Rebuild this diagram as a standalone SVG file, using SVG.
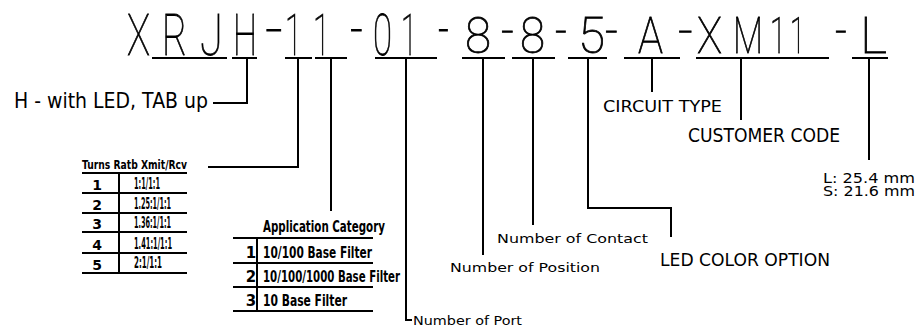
<svg xmlns="http://www.w3.org/2000/svg" width="917" height="328" viewBox="0 0 917 328">
<defs>
<filter id="gray" x="0" y="0" width="917" height="100" filterUnits="userSpaceOnUse"><feColorMatrix type="saturate" values="0"/></filter>
</defs>
<style>
.bg{fill:#fff}
.ti{font-family:Roboto,"DejaVu Sans",sans-serif;font-weight:100;fill:#000;stroke:#000;stroke-width:0.8}
.tl{font-size:58px}
.tr{font-size:50px}
.ln{stroke:#000;stroke-width:2;fill:none}
.lb{font-family:"DejaVu Sans","Liberation Sans",sans-serif;fill:#000}
.tb{font-family:"DejaVu Sans","Liberation Sans",sans-serif;font-weight:bold;fill:#000}
</style>
<rect class="bg" x="0" y="0" width="917" height="328"/>
<g id="title" filter="url(#gray)">
<g class="ti tl">
<text x="127" y="55" textLength="23" lengthAdjust="spacingAndGlyphs">X</text>
<text x="162" y="55" textLength="25" lengthAdjust="spacingAndGlyphs">R</text>
<text x="200" y="55" textLength="23" lengthAdjust="spacingAndGlyphs">J</text>
<text x="233" y="55" textLength="24" lengthAdjust="spacingAndGlyphs">H</text>
<text x="265" y="49" textLength="18" lengthAdjust="spacingAndGlyphs">-</text>
<text x="285" y="55" textLength="17" lengthAdjust="spacingAndGlyphs">1</text>
<text x="313" y="55" textLength="17" lengthAdjust="spacingAndGlyphs">1</text>
<text x="350" y="49" textLength="13" lengthAdjust="spacingAndGlyphs">-</text>
<text x="373" y="55" textLength="19" lengthAdjust="spacingAndGlyphs">0</text>
<text x="401" y="55" textLength="16" lengthAdjust="spacingAndGlyphs">1</text>
<text x="438" y="49" textLength="11" lengthAdjust="spacingAndGlyphs">-</text>
</g>
<g class="ti tr">
<text x="465" y="53" textLength="26" lengthAdjust="spacingAndGlyphs">8</text>
<text x="501" y="47.5" textLength="13" lengthAdjust="spacingAndGlyphs">-</text>
<text x="520" y="53" textLength="25" lengthAdjust="spacingAndGlyphs">8</text>
<text x="555" y="47.5" textLength="12" lengthAdjust="spacingAndGlyphs">-</text>
<text x="578" y="53" textLength="27" lengthAdjust="spacingAndGlyphs">5</text>
<text x="605" y="47.5" textLength="13" lengthAdjust="spacingAndGlyphs">-</text>
<text x="638" y="53" textLength="25" lengthAdjust="spacingAndGlyphs">A</text>
<text x="678" y="47.5" textLength="15" lengthAdjust="spacingAndGlyphs">-</text>
<text x="697" y="53" textLength="25" lengthAdjust="spacingAndGlyphs">X</text>
<text x="733" y="53" textLength="30" lengthAdjust="spacingAndGlyphs">M</text>
<text x="770" y="53" textLength="16" lengthAdjust="spacingAndGlyphs">1</text>
<text x="790" y="53" textLength="15" lengthAdjust="spacingAndGlyphs">1</text>
<text x="835" y="47.5" textLength="12" lengthAdjust="spacingAndGlyphs">-</text>
<text x="860" y="53" textLength="27" lengthAdjust="spacingAndGlyphs">L</text>
</g>
</g>
<g id="connectors" class="ln">
<path d="M152 58H227M232 58H257M285 58H312M315 58H347M375 58H437M462 58H505M512 58H555M568 58H607M624 58H680M696 58H829M852 58H888"/>
<path d="M247 58V103H213"/>
<path d="M298 58V167H208"/>
<path d="M331 58V211"/>
<path d="M406 58V320H412"/>
<path d="M483 58V255"/>
<path d="M533 58V225"/>
<path d="M588 58V208H671V237"/>
<path d="M652 58V92"/>
<path d="M741 58V120"/>
<path d="M869 58V160"/>
</g>
<g id="led-tab" class="lb"><text x="14" y="108" font-size="22" textLength="194" lengthAdjust="spacingAndGlyphs">H - with LED, TAB up</text></g>
<g id="turns-ratio" class="tb">
<text x="82" y="169" font-size="12" textLength="105" lengthAdjust="spacingAndGlyphs">Turns Ratb Xmit/Rcv</text>
<path class="ln" d="M82 173H187M82 193H187M82 213H187M82 232H187M82 253H187M82 273H187M119 173V273"/>
<g font-size="14" text-anchor="middle">
<text x="97" y="190">1</text>
<text x="97" y="210">2</text>
<text x="97" y="229">3</text>
<text x="97" y="250">4</text>
<text x="97" y="270">5</text>
</g>
<g font-size="15">
<text x="134" y="189" textLength="26" lengthAdjust="spacingAndGlyphs">1:1/1:1</text>
<text x="134" y="209" textLength="37" lengthAdjust="spacingAndGlyphs">1.25:1/1:1</text>
<text x="134" y="228" textLength="37" lengthAdjust="spacingAndGlyphs">1.36:1/1:1</text>
<text x="134" y="249" textLength="38" lengthAdjust="spacingAndGlyphs">1.41:1/1:1</text>
<text x="134" y="268" textLength="28" lengthAdjust="spacingAndGlyphs">2:1/1:1</text>
</g>
</g>
<g id="application-category" class="tb">
<text x="263" y="232" font-size="16" textLength="122" lengthAdjust="spacingAndGlyphs">Application Category</text>
<path class="ln" d="M233 238H373M233 263H373M233 287H373M233 311H373M257 238V311"/>
<g font-size="15" text-anchor="middle">
<text x="251" y="258">1</text>
<text x="251" y="282">2</text>
<text x="251" y="306">3</text>
</g>
<g font-size="16">
<text x="263" y="258" textLength="109" lengthAdjust="spacingAndGlyphs">10/100 Base Filter</text>
<text x="263" y="282" textLength="137" lengthAdjust="spacingAndGlyphs">10/100/1000 Base Filter</text>
<text x="263" y="306" textLength="84" lengthAdjust="spacingAndGlyphs">10 Base Filter</text>
</g>
</g>
<g id="number-of-port" class="lb"><text x="413" y="325" font-size="13" textLength="109" lengthAdjust="spacingAndGlyphs">Number of Port</text></g>
<g id="number-of-position" class="lb"><text x="450" y="272" font-size="13" textLength="150" lengthAdjust="spacingAndGlyphs">Number of Position</text></g>
<g id="number-of-contact" class="lb"><text x="497" y="243" font-size="13" textLength="151" lengthAdjust="spacingAndGlyphs">Number of Contact</text></g>
<g id="led-color-option" class="lb"><text x="660" y="266" font-size="17" textLength="170" lengthAdjust="spacingAndGlyphs">LED COLOR OPTION</text></g>
<g id="circuit-type" class="lb"><text x="603" y="112" font-size="16" textLength="119" lengthAdjust="spacingAndGlyphs">CIRCUIT TYPE</text></g>
<g id="customer-code" class="lb"><text x="688" y="142" font-size="20" textLength="152" lengthAdjust="spacingAndGlyphs">CUSTOMER CODE</text></g>
<g id="length-option" class="lb" font-size="14">
<text x="823" y="183" textLength="92" lengthAdjust="spacingAndGlyphs">L: 25.4 mm</text>
<text x="823" y="196" textLength="92" lengthAdjust="spacingAndGlyphs">S: 21.6 mm</text>
</g>
</svg>
